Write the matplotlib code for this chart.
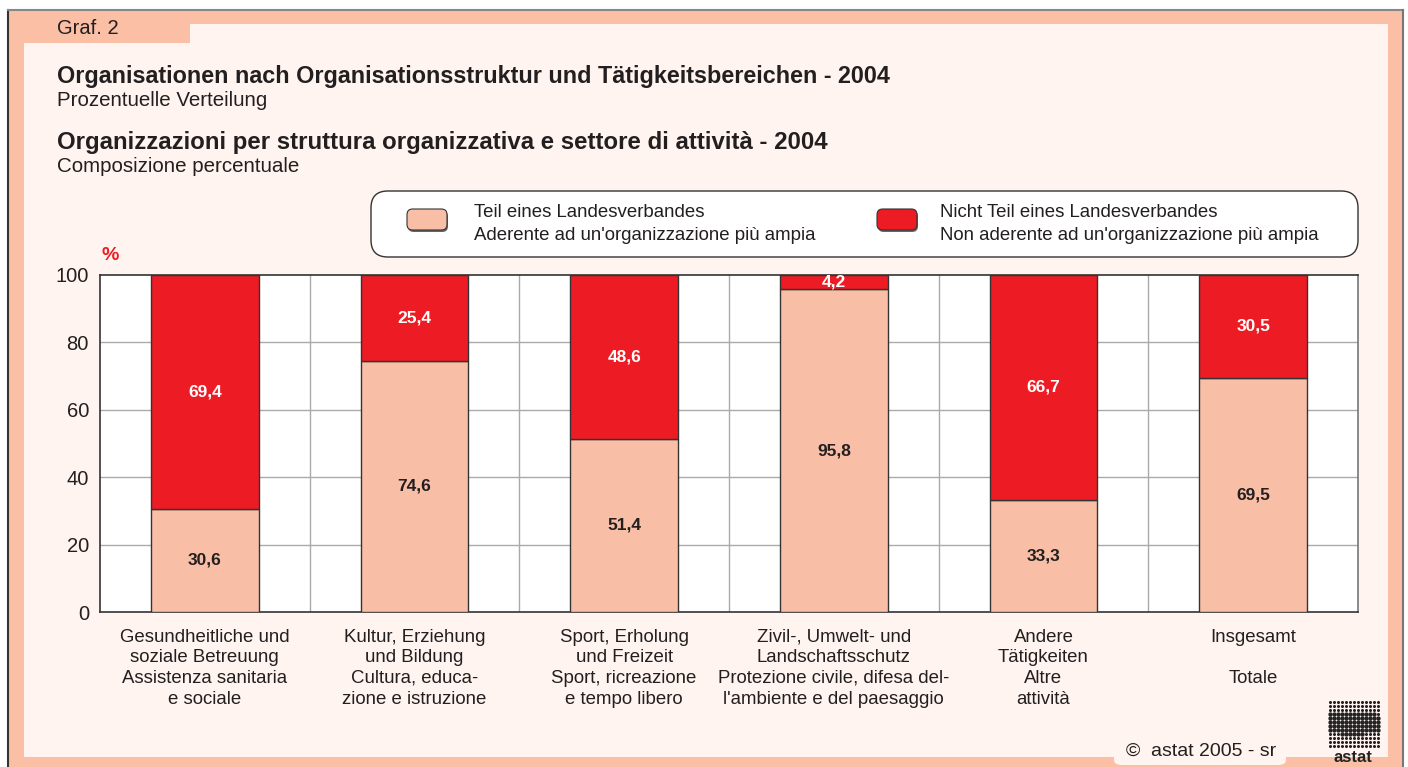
import matplotlib
matplotlib.use("Agg")
import matplotlib.pyplot as plt
from matplotlib.patches import Rectangle, FancyBboxPatch
import numpy as np

plt.rcParams['font.family'] = ['Liberation Sans', 'DejaVu Sans']

categories = [
    "Gesundheitliche und\nsoziale Betreuung\nAssistenza sanitaria\ne sociale",
    "Kultur, Erziehung\nund Bildung\nCultura, educa-\nzione e istruzione",
    "Sport, Erholung\nund Freizeit\nSport, ricreazione\ne tempo libero",
    "Zivil-, Umwelt- und\nLandschaftsschutz\nProtezione civile, difesa del-\nl'ambiente e del paesaggio",
    "Andere\nTätigkeiten\nAltre\nattività",
    "Insgesamt\n\nTotale",
]
teil = [30.6, 74.6, 51.4, 95.8, 33.3, 69.5]
nicht_teil = [69.4, 25.4, 48.6, 4.2, 66.7, 30.5]
yticks = [0, 20, 40, 60, 80, 100]
legend_labels = ["Teil eines Landesverbandes\nAderente ad un'organizzazione più ampia",
                 "Nicht Teil eines Landesverbandes\nNon aderente ad un'organizzazione più ampia"]

W, H = 1408, 767
SALMON = "#FBBFA6"
BAR_SALMON = "#F9BFA6"
RED = "#ED1C24"
BG = "#FFF4EF"
TXT = "#231F20"

fig = plt.figure(figsize=(W / 100, H / 100), dpi=100)
fig.patch.set_facecolor("white")

def px(x, y):
    return x / W, 1 - y / H

def rect(x0, y0, x1, y1, **kw):
    fig.add_artist(Rectangle(px(x0, y1), (x1 - x0) / W, (y1 - y0) / H,
                             transform=fig.transFigure, **kw))

# outer frame
rect(8, 10, 1403, 767, facecolor=SALMON, edgecolor="none", zorder=0)
rect(24, 24, 1388, 757, facecolor=BG, edgecolor="none", zorder=0.1)
rect(24, 24, 190, 43, facecolor=SALMON, edgecolor="none", zorder=0.2)
fig.add_artist(plt.Line2D([8 / W, 8 / W], [0, 1 - 10 / H], color="#333333", lw=1.5, transform=fig.transFigure))
fig.add_artist(plt.Line2D([8 / W, 1403 / W], [1 - 10 / H, 1 - 10 / H], color="#888888", lw=1.5, transform=fig.transFigure))
fig.add_artist(plt.Line2D([1403 / W, 1403 / W], [0, 1 - 10 / H], color="#777777", lw=1.5, transform=fig.transFigure))
# bottom copyright tab
fig.add_artist(FancyBboxPatch(px(1114, 765), 172 / W, 30 / H, boxstyle="round,pad=0,rounding_size=0.006",
                              transform=fig.transFigure, facecolor=BG, edgecolor="none", zorder=0.3))

fig.text(*px(57, 29), "Graf. 2", fontsize=14.5, color=TXT, va="center", ha="left")
fig.text(*px(57, 76), "Organisationen nach Organisationsstruktur und Tätigkeitsbereichen - 2004",
         fontsize=16.8, fontweight="bold", color=TXT, va="center", ha="left")
fig.text(*px(57, 101), "Prozentuelle Verteilung", fontsize=14.8, color=TXT, va="center", ha="left")
fig.text(*px(57, 142), "Organizzazioni per struttura organizzativa e settore di attività - 2004",
         fontsize=17.3, fontweight="bold", color=TXT, va="center", ha="left")
fig.text(*px(57, 167), "Composizione percentuale", fontsize=14.8, color=TXT, va="center", ha="left")

# legend box
fig.add_artist(FancyBboxPatch(px(371, 257), (1358 - 371) / W, (257 - 191) / H,
                              boxstyle="round,pad=0,rounding_size=0.012", transform=fig.transFigure,
                              facecolor="white", edgecolor="#333333", lw=1, zorder=1, mutation_aspect=W / H))
for (sx, tx), col, lab in zip([(407, 474), (877, 940)], [BAR_SALMON, RED], legend_labels):
    fig.add_artist(FancyBboxPatch(px(sx + 1, 232), 40 / W, 21 / H, boxstyle="round,pad=0,rounding_size=0.004",
                                  transform=fig.transFigure, facecolor="#666666", edgecolor="none", zorder=1.5,
                                  mutation_aspect=W / H))
    fig.add_artist(FancyBboxPatch(px(sx, 230), 40 / W, 21 / H, boxstyle="round,pad=0,rounding_size=0.004",
                                  transform=fig.transFigure, facecolor=col, edgecolor="#333333", lw=0.8,
                                  zorder=2, mutation_aspect=W / H))
    fig.text(*px(tx, 224), lab, fontsize=13.4, color=TXT, va="center", ha="left", linespacing=1.48, zorder=3)

# axes
ax = fig.add_axes([100 / W, 1 - 612 / H, 1258 / W, 337 / H])
ax.set_zorder(5)
ax.set_facecolor("white")
x = np.arange(len(categories))
bw = 0.515
ax.bar(x, teil, bw, color=BAR_SALMON, edgecolor="#333333", lw=1, zorder=3)
ax.bar(x, nicht_teil, bw, bottom=teil, color=RED, edgecolor="#333333", lw=1, zorder=3)
for xi, a, b in zip(x, teil, nicht_teil):
    ax.text(xi, a / 2, f"{a:.1f}".replace(".", ","), ha="center", va="center", fontsize=12.5,
            fontweight="bold", color=TXT, zorder=4)
    ax.text(xi, a + b / 2, f"{b:.1f}".replace(".", ","), ha="center", va="center", fontsize=12.5,
            fontweight="bold", color="white", zorder=4)

ax.set_xlim(-0.5, len(categories) - 0.5)
ax.set_ylim(0, 100)
ax.set_yticks(yticks)
ax.set_yticklabels([str(t) for t in yticks], fontsize=14.5, color=TXT)
for t in yticks[1:-1]:
    ax.axhline(t, color="#AAAAAA", lw=1, zorder=1)
for b in np.arange(0.5, len(categories) - 0.5, 1):
    ax.axvline(b, color="#AAAAAA", lw=1, zorder=1)
ax.set_xticks(x)
ax.set_xticklabels(categories, fontsize=13.4, color=TXT, linespacing=1.28, va="top")
ax.tick_params(axis="both", length=0)
ax.tick_params(axis="x", pad=12)
ax.tick_params(axis="y", pad=8)
for s in ["left", "bottom", "top"]:
    ax.spines[s].set_color("#333333")
    ax.spines[s].set_linewidth(1.2)
ax.spines["right"].set_color("#777777")
ax.spines["right"].set_linewidth(1.2)

fig.text(*px(101, 255), "%", fontsize=14, fontweight="bold", color=RED, va="center", ha="left")

# copyright
fig.text(*px(1126, 751), "©  astat 2005 - sr", fontsize=14, color=TXT, va="center", ha="left", zorder=2)

# logo (dot matrix)
gx, gy = np.meshgrid(np.arange(1330, 1382, 4.0), np.arange(702, 750, 4.0))
gx, gy = gx.ravel(), gy.ravel()
blob = ((gx - 1352) / 34) ** 2 + ((gy - 723) / 12) ** 2 < 1
fxy = np.array([px(a, b) for a, b in zip(gx[~blob], gy[~blob])])
fig.add_artist(plt.Line2D(fxy[:, 0], fxy[:, 1], ls="none", marker="o", ms=1.2, color="#222222",
                          transform=fig.transFigure, zorder=2))
fb = np.array([px(a, b) for a, b in zip(gx[blob], gy[blob])])
fig.add_artist(plt.Line2D(fb[:, 0], fb[:, 1], ls="none", marker="o", ms=2.1, color="#222222",
                          transform=fig.transFigure, zorder=2))
fig.text(*px(1353, 757), "astat", fontsize=12, fontweight="bold", color="#222222", ha="center",
         va="center", zorder=3)

fig.savefig("out.png", dpi=100, facecolor=fig.get_facecolor())
